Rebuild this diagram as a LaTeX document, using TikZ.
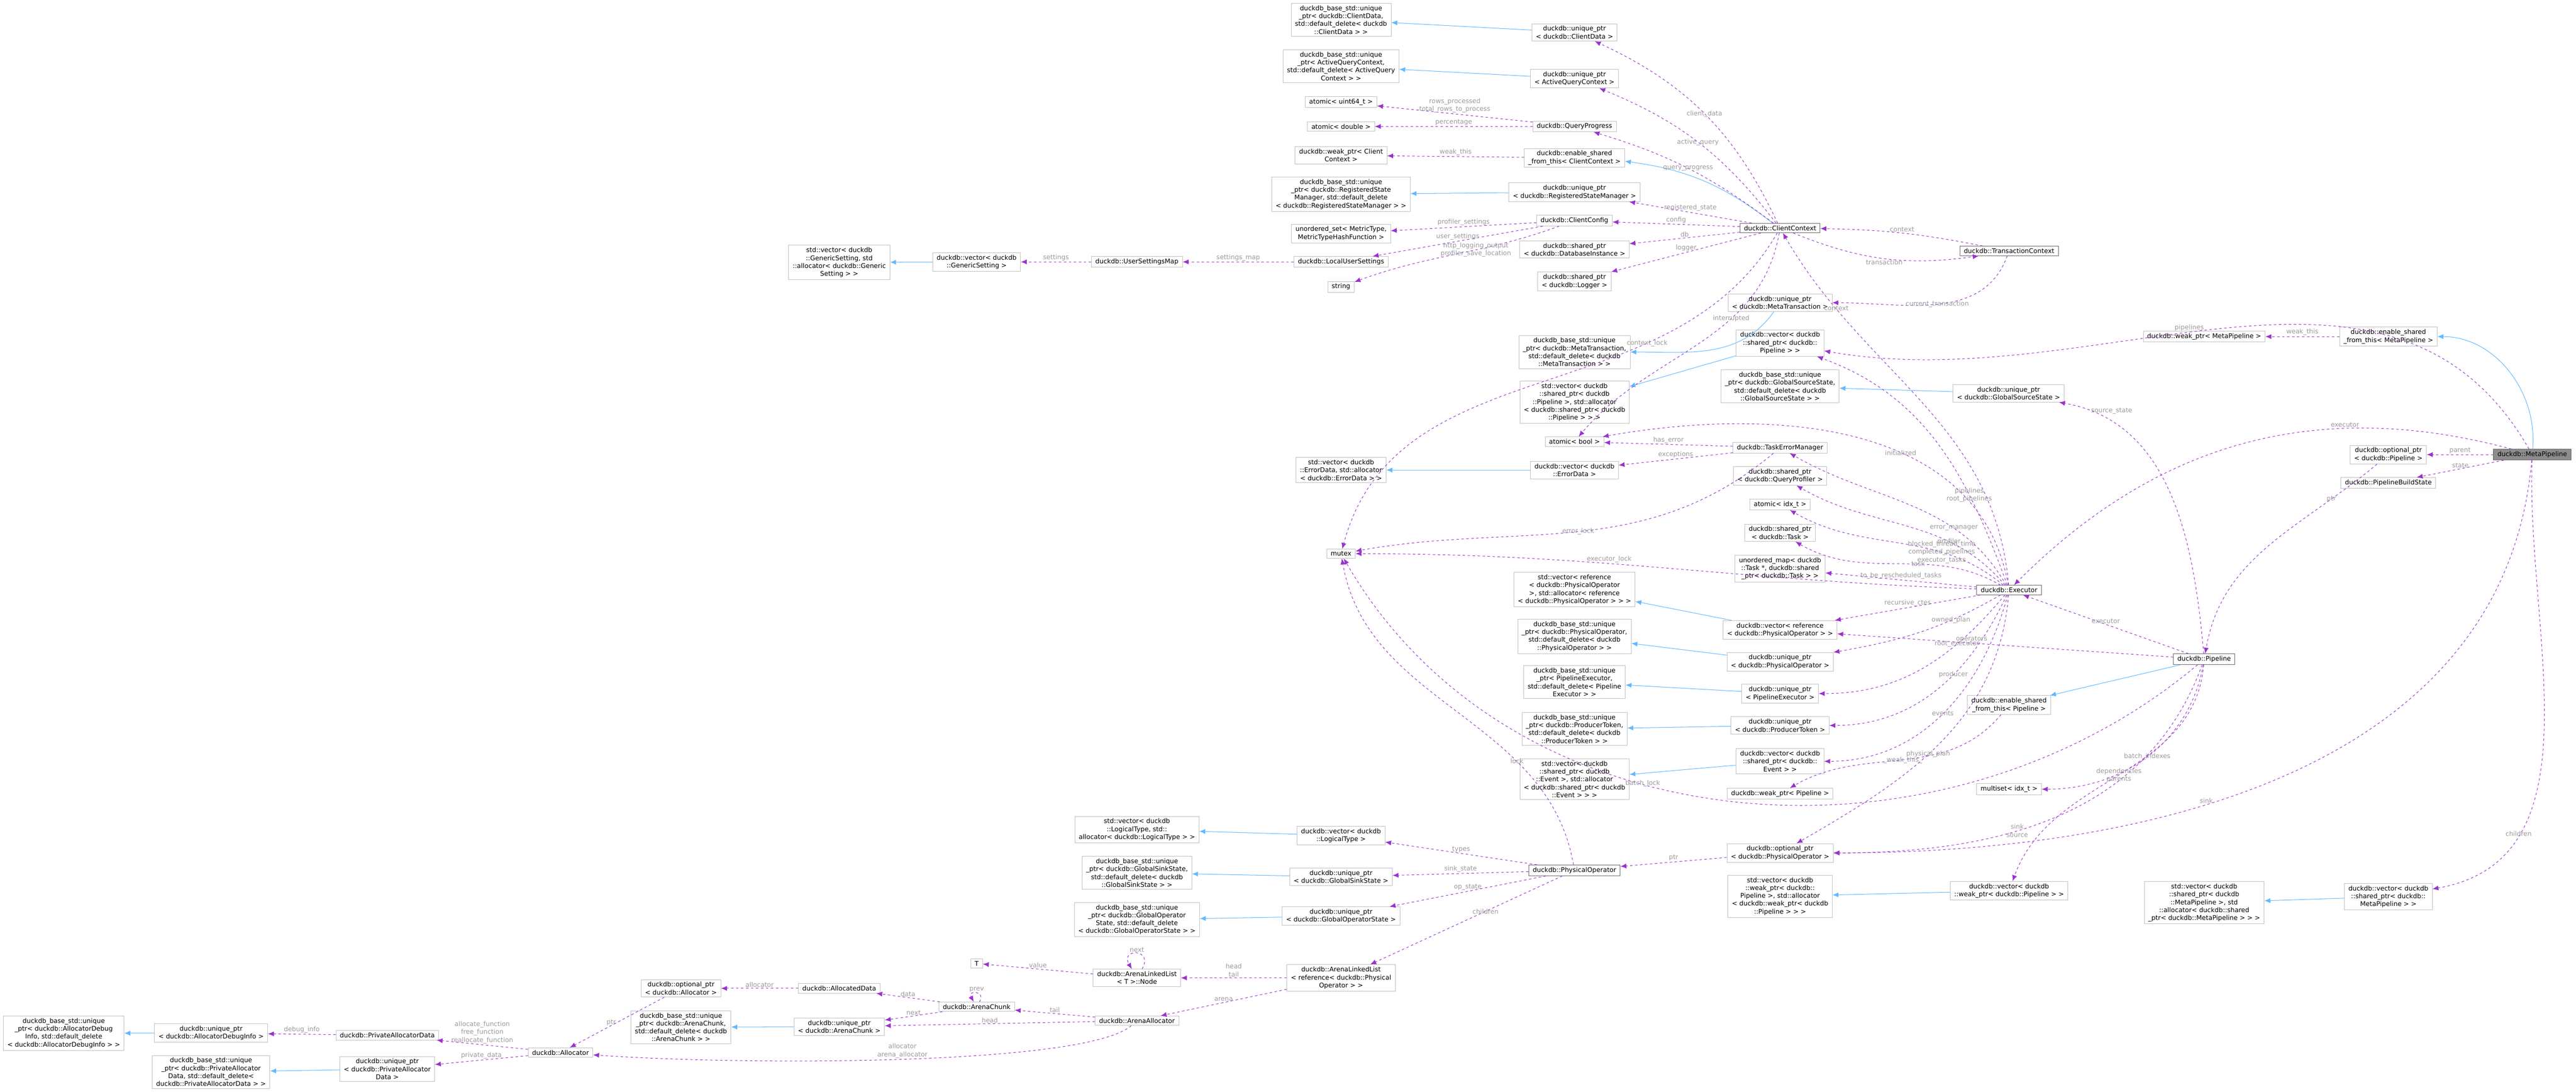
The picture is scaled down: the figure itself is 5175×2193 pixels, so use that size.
\documentclass[tikz,border=0pt]{standalone}
\usepackage{fontspec}
\usepackage{tikz}
\usepackage{xcolor}
\usetikzlibrary{arrows.meta}
\setmainfont{DejaVu Sans}
\definecolor{mem}{HTML}{9A32CD}
\definecolor{inh}{HTML}{63B8FF}
\definecolor{edge}{HTML}{BFBFBF}
\definecolor{lbl}{HTML}{9A9A9A}

\begin{document}
\begin{tikzpicture}[x=0.02cm, y=-0.02cm,
	box/.style={draw=edge, line width=0.5pt, fill=white, align=center, inner xsep=1.6mm, inner ysep=0.9mm, font=\fontsize{7.4}{9}\selectfont},
	key/.style={box, draw=black!60},
	lbl/.style={text=lbl, align=center, font=\fontsize{7.4}{9}\selectfont, inner sep=1pt},
	mem/.style={draw=mem, dashed, dash pattern=on 1mm off 1mm, line width=0.6pt, -{Latex[length=2.4mm, width=2mm]}},
	inh/.style={draw=inh, line width=0.6pt, -{Latex[length=2.4mm, width=2mm]}}]
	\useasboundingbox (0,0) rectangle (5175,2193);

	\node[box](bCD) at (2694,40) {duckdb\_base\_std::unique\\\_ptr< duckdb::ClientData,\\ std::default\_delete< duckdb\\::ClientData > >};
	\node[box](uCD) at (3163,65) {duckdb::unique\_ptr\\< duckdb::ClientData >};
	\node[box](bAQC) at (2694,133) {duckdb\_base\_std::unique\\\_ptr< ActiveQueryContext,\\ std::default\_delete< ActiveQuery\\Context > >};
	\node[box](uAQC) at (3163,158) {duckdb::unique\_ptr\\< ActiveQueryContext >};
	\node[box](aU64) at (2694,205) {atomic< uint64\_t >};
	\node[box](aDbl) at (2694,254) {atomic< double >};
	\node[box](qp) at (3163,254) {duckdb::QueryProgress};
	\node[box](wCC) at (2694,312) {duckdb::weak\_ptr< Client\\Context >};
	\node[box](esCC) at (3163,317) {duckdb::enable\_shared\\\_from\_this< ClientContext >};
	\node[box](bRSM) at (2694,390) {duckdb\_base\_std::unique\\\_ptr< duckdb::RegisteredState\\Manager, std::default\_delete\\< duckdb::RegisteredStateManager > >};
	\node[box](uRSM) at (3163,386) {duckdb::unique\_ptr\\< duckdb::RegisteredStateManager >};
	\node[box](cfg) at (3163,443) {duckdb::ClientConfig};
	\node[box](uSet) at (2694,469) {unordered\_set< MetricType,\\MetricTypeHashFunction >};
	\node[box](sDB) at (3163,501) {duckdb::shared\_ptr\\< duckdb::DatabaseInstance >};
	\node[box](lus) at (2694,526) {duckdb::LocalUserSettings};
	\node[box](usm) at (2284,526) {duckdb::UserSettingsMap};
	\node[box](vGS) at (1962,526) {duckdb::vector< duckdb\\::GenericSetting >};
	\node[box](svGS) at (1686,527) {std::vector< duckdb\\::GenericSetting, std\\::allocator< duckdb::Generic\\Setting > >};
	\node[key](cc) at (3576,458) {duckdb::ClientContext};
	\node[key](tc) at (4036,504) {duckdb::TransactionContext};
	\node[box](str) at (2694,576) {string};
	\node[box](sLog) at (3163,565) {duckdb::shared\_ptr\\< duckdb::Logger >};
	\node[box](uMT) at (3576,608) {duckdb::unique\_ptr\\< duckdb::MetaTransaction >};
	\node[box](bMT) at (3163,707) {duckdb\_base\_std::unique\\\_ptr< duckdb::MetaTransaction,\\ std::default\_delete< duckdb\\::MetaTransaction > >};
	\node[box](vSPP) at (3576,689) {duckdb::vector< duckdb\\::shared\_ptr< duckdb::\\Pipeline > >};
	\node[box](svSPP) at (3163,808) {std::vector< duckdb\\::shared\_ptr< duckdb\\::Pipeline >, std::allocator\\< duckdb::shared\_ptr< duckdb\\::Pipeline > > >};
	\node[box](bGSS) at (3576,776) {duckdb\_base\_std::unique\\\_ptr< duckdb::GlobalSourceState,\\ std::default\_delete< duckdb\\::GlobalSourceState > >};
	\node[box](uGSS) at (4035,790) {duckdb::unique\_ptr\\< duckdb::GlobalSourceState >};
	\node[box](aBool) at (3163,887) {atomic< bool >};
	\node[box](tem) at (3576,899) {duckdb::TaskErrorManager};
	\node[box](svED) at (2694,944) {std::vector< duckdb\\::ErrorData, std::allocator\\< duckdb::ErrorData > >};
	\node[box](vED) at (3163,944) {duckdb::vector< duckdb\\::ErrorData >};
	\node[box](sQP) at (3576,956) {duckdb::shared\_ptr\\< duckdb::QueryProfiler >};
	\node[box](aIdx) at (3576,1013) {atomic< idx\_t >};
	\node[box](sTask) at (3576,1070) {duckdb::shared\_ptr\\< duckdb::Task >};
	\node[box](mtx) at (2694,1112) {mutex};
	\node[box](uMap) at (3576,1142) {unordered\_map< duckdb\\::Task *, duckdb::shared\\\_ptr< duckdb::Task > >};
	\node[box](svRPO) at (3163,1184) {std::vector< reference\\< duckdb::PhysicalOperator\\ >, std::allocator< reference\\< duckdb::PhysicalOperator > > >};
	\node[box](vRPO) at (3576,1265) {duckdb::vector< reference\\< duckdb::PhysicalOperator > >};
	\node[box](bPO) at (3163,1278) {duckdb\_base\_std::unique\\\_ptr< duckdb::PhysicalOperator,\\ std::default\_delete< duckdb\\::PhysicalOperator > >};
	\node[box](uPO) at (3576,1329) {duckdb::unique\_ptr\\< duckdb::PhysicalOperator >};
	\node[box](bPE) at (3163,1370) {duckdb\_base\_std::unique\\\_ptr< PipelineExecutor,\\ std::default\_delete< Pipeline\\Executor > >};
	\node[box](uPE) at (3576,1393) {duckdb::unique\_ptr\\< PipelineExecutor >};
	\node[box](bPT) at (3163,1464) {duckdb\_base\_std::unique\\\_ptr< duckdb::ProducerToken,\\ std::default\_delete< duckdb\\::ProducerToken > >};
	\node[box](uPT) at (3576,1457) {duckdb::unique\_ptr\\< duckdb::ProducerToken >};
	\node[box](svSPE) at (3163,1565) {std::vector< duckdb\\::shared\_ptr< duckdb\\::Event >, std::allocator\\< duckdb::shared\_ptr< duckdb\\::Event > > >};
	\node[box](vSPE) at (3576,1529) {duckdb::vector< duckdb\\::shared\_ptr< duckdb::\\Event > >};
	\node[box](wP) at (3576,1594) {duckdb::weak\_ptr< Pipeline >};
	\node[box](wMP) at (4428,676) {duckdb::weak\_ptr< MetaPipeline >};
	\node[box](esMP) at (4798,676) {duckdb::enable\_shared\\\_from\_this< MetaPipeline >};
	\node[box](oP) at (4798,913) {duckdb::optional\_ptr\\< duckdb::Pipeline >};
	\node[key, fill=black!45](mp) at (5087,913) {duckdb::MetaPipeline};
	\node[box](pbs) at (4798,970) {duckdb::PipelineBuildState};
	\node[key](exe) at (4036,1185) {duckdb::Executor};
	\node[key](pl) at (4428,1324) {duckdb::Pipeline};
	\node[box](esP) at (4036,1416) {duckdb::enable\_shared\\\_from\_this< Pipeline >};
	\node[box](mset) at (4036,1585) {multiset< idx\_t >};
	\node[box](svLT) at (2284,1666) {std::vector< duckdb\\::LogicalType, std::\\allocator< duckdb::LogicalType > >};
	\node[box](vLT) at (2694,1678) {duckdb::vector< duckdb\\::LogicalType >};
	\node[box](bGSiS) at (2284,1753) {duckdb\_base\_std::unique\\\_ptr< duckdb::GlobalSinkState,\\ std::default\_delete< duckdb\\::GlobalSinkState > >};
	\node[box](uGSiS) at (2694,1761) {duckdb::unique\_ptr\\< duckdb::GlobalSinkState >};
	\node[box](bGOS) at (2284,1847) {duckdb\_base\_std::unique\\\_ptr< duckdb::GlobalOperator\\State, std::default\_delete\\< duckdb::GlobalOperatorState > >};
	\node[box](uGOS) at (2694,1840) {duckdb::unique\_ptr\\< duckdb::GlobalOperatorState >};
	\node[key](po) at (3163,1748) {duckdb::PhysicalOperator};
	\node[box](oPO) at (3576,1713) {duckdb::optional\_ptr\\< duckdb::PhysicalOperator >};
	\node[box](svWPP) at (3576,1800) {std::vector< duckdb\\::weak\_ptr< duckdb::\\Pipeline >, std::allocator\\< duckdb::weak\_ptr< duckdb\\::Pipeline > > >};
	\node[box](vWPP) at (4036,1789) {duckdb::vector< duckdb\\::weak\_ptr< duckdb::Pipeline > >};
	\node[box](svSPMP) at (4428,1813) {std::vector< duckdb\\::shared\_ptr< duckdb\\::MetaPipeline >, std\\::allocator< duckdb::shared\\\_ptr< duckdb::MetaPipeline > > >};
	\node[box](vSPMP) at (4798,1801) {duckdb::vector< duckdb\\::shared\_ptr< duckdb::\\MetaPipeline > >};
	\node[box](T) at (1962,1935) {T};
	\node[box](lnode) at (2284,1964) {duckdb::ArenaLinkedList\\< T >::Node};
	\node[box](all) at (2694,1964) {duckdb::ArenaLinkedList\\< reference< duckdb::Physical\\Operator > >};
	\node[box](oAl) at (1368,1985) {duckdb::optional\_ptr\\< duckdb::Allocator >};
	\node[box](ad) at (1686,1985) {duckdb::AllocatedData};
	\node[box](ac) at (1962,2022) {duckdb::ArenaChunk};
	\node[box](bAC) at (1368,2063) {duckdb\_base\_std::unique\\\_ptr< duckdb::ArenaChunk,\\ std::default\_delete< duckdb\\::ArenaChunk > >};
	\node[box](uAC) at (1686,2062) {duckdb::unique\_ptr\\< duckdb::ArenaChunk >};
	\node[box](aa) at (2284,2050) {duckdb::ArenaAllocator};
	\node[box](alloc) at (1126,2114) {duckdb::Allocator};
	\node[box](bADI) at (128,2075) {duckdb\_base\_std::unique\\\_ptr< duckdb::AllocatorDebug\\Info, std::default\_delete\\< duckdb::AllocatorDebugInfo > >};
	\node[box](uADI) at (424,2075) {duckdb::unique\_ptr\\< duckdb::AllocatorDebugInfo >};
	\node[box](pad) at (778,2079) {duckdb::PrivateAllocatorData};
	\node[box](bPAD) at (424,2153) {duckdb\_base\_std::unique\\\_ptr< duckdb::PrivateAllocator\\Data, std::default\_delete<\\ duckdb::PrivateAllocatorData > >};
	\node[box](uPAD) at (778,2147) {duckdb::unique\_ptr\\< duckdb::PrivateAllocator\\Data >};

	\draw[inh] (uCD) -- (bCD);
	\draw[inh] (uAQC) -- (bAQC);
	\draw[inh] (cc) to[bend right=15] (esCC);
	\draw[inh] (uRSM) -- (bRSM);
	\draw[inh] (vGS) -- (svGS);
	\draw[inh] (uMT) to[out=235, in=0] (bMT);
	\draw[inh] (vSPP) -- (svSPP);
	\draw[inh] (uGSS) -- (bGSS);
	\draw[inh] (vED) -- (svED);
	\draw[inh] (vRPO) -- (svRPO);
	\draw[inh] (uPO) -- (bPO);
	\draw[inh] (uPE) -- (bPE);
	\draw[inh] (uPT) -- (bPT);
	\draw[inh] (vSPE) -- (svSPE);
	\draw[inh] (vLT) -- (svLT);
	\draw[inh] (uGSiS) -- (bGSiS);
	\draw[inh] (uGOS) -- (bGOS);
	\draw[inh] (uAC) -- (bAC);
	\draw[inh] (uADI) -- (bADI);
	\draw[inh] (uPAD) -- (bPAD);
	\draw[inh] (pl) -- (esP);
	\draw[inh] (vWPP) -- (svWPP);
	\draw[inh] (vSPMP) -- (svSPMP);
	\draw[inh] (mp) to[out=85, in=0] (esMP);

	\draw[mem] (cc) to[bend right=20] node[lbl]{client\_data} (uCD);
	\draw[mem] (cc) to[bend right=15] node[lbl]{active\_query} (uAQC);
	\draw[mem] (qp) -- node[lbl, above]{rows\_processed\\total\_rows\_to\_process} (aU64);
	\draw[mem] (qp) -- node[lbl, above]{percentage} (aDbl);
	\draw[mem] (cc) to[bend right=10] node[lbl]{query\_progress} (qp);
	\draw[mem] (esCC) -- node[lbl, above]{weak\_this} (wCC);
	\draw[mem] (cc) -- node[lbl, above]{registered\_state} (uRSM);
	\draw[mem] (cc) -- node[lbl, above]{config} (cfg);
	\draw[mem] (cfg) -- node[lbl, above]{profiler\_settings} (uSet);
	\draw[mem] (cfg) -- node[lbl, above]{user\_settings} (lus);
	\draw[mem] (cfg) to[out=200, in=20] node[lbl, pos=0.4]{http\_logging\_output\\profiler\_save\_location} (str);
	\draw[mem] (lus) -- node[lbl, above]{settings\_map} (usm);
	\draw[mem] (usm) -- node[lbl, above]{settings} (vGS);
	\draw[mem] (cc) -- node[lbl, above]{db} (sDB);
	\draw[mem] (cc) -- node[lbl, above]{logger} (sLog);
	\draw[mem] (cc) to[out=240, in=75] node[lbl, pos=0.3]{context\_lock} (mtx);
	\draw[mem] (cc) to[out=260, in=50] node[lbl, pos=0.35]{interrupted} (aBool);
	\draw[mem] (tc) to[bend right=5] node[lbl, above]{context} (cc);
	\draw[mem] (cc) to[bend right=15] node[lbl, below]{transaction} (tc);
	\draw[mem] (exe) to[out=95, in=-60] node[lbl, pos=0.8]{context} (cc);
	\draw[mem] (tc) to[out=250, in=0] node[lbl]{current\_transaction} (uMT);
	\draw[mem] (exe) to[out=100, in=10] node[lbl, pos=0.4]{initialized} (aBool);
	\draw[mem] (tem) -- node[lbl, above]{has\_error} (aBool);
	\draw[mem] (tem) -- node[lbl, above]{exceptions} (vED);
	\draw[mem] (tem) to[out=220, in=10] node[lbl]{error\_lock} (mtx);
	\draw[mem] (exe) to[out=110, in=-20] node[lbl, pos=0.3]{pipelines\\root\_pipelines} (vSPP);
	\draw[mem] (mp) to[out=120, in=-10] node[lbl, pos=0.55, above]{pipelines} (vSPP);
	\draw[mem] (exe) to[out=120, in=-30] node[lbl, pos=0.3]{error\_manager} (tem);
	\draw[mem] (exe) to[out=130, in=-30] node[lbl, pos=0.3]{profiler} (sQP);
	\draw[mem] (exe) to[out=140, in=-30] node[lbl, pos=0.3]{blocked\_thread\_time\\completed\_pipelines\\executor\_tasks} (aIdx);
	\draw[mem] (exe) to[out=150, in=-30] node[lbl, pos=0.4]{task} (sTask);
	\draw[mem] (exe) -- node[lbl, above]{to\_be\_rescheduled\_tasks} (uMap);
	\draw[mem] (exe) to[out=178, in=0] node[lbl, pos=0.6, above]{executor\_lock} (mtx);
	\draw[mem] (exe) -- node[lbl, above]{recursive\_ctes} (vRPO);
	\draw[mem] (exe) to[out=210, in=10] node[lbl, pos=0.3]{owned\_plan} (uPO);
	\draw[mem] (exe) to[out=230, in=0] node[lbl, pos=0.3]{root\_executor} (uPE);
	\draw[mem] (exe) to[out=245, in=0] node[lbl, pos=0.4]{producer} (uPT);
	\draw[mem] (exe) to[out=255, in=0] node[lbl, pos=0.5]{events} (vSPE);
	\draw[mem] (esP) to[out=230, in=30] node[lbl]{\_weak\_this\_} (wP);
	\draw[mem] (exe) to[out=265, in=30] node[lbl, pos=0.55]{physical\_plan} (oPO);
	\draw[mem] (pl) to[out=220, in=-60] node[lbl, pos=0.6]{batch\_lock} (mtx);
	\draw[mem] (po) to[out=100, in=-80] node[lbl, pos=0.3]{lock} (mtx);
	\draw[mem] (pl) -- node[lbl, above]{executor} (exe);
	\draw[mem] (pl) to[out=95, in=-10] node[lbl, pos=0.9, right]{source\_state} (uGSS);
	\draw[mem] (pl) -- node[lbl, pos=0.6, above]{operators} (vRPO);
	\draw[mem] (pl) to[out=260, in=0] node[lbl, pos=0.5]{batch\_indexes} (mset);
	\draw[mem] (pl) to[out=250, in=0] node[lbl, pos=0.6]{sink\\source} (oPO);
	\draw[mem] (pl) to[out=265, in=70] node[lbl, pos=0.5]{dependencies\\parents} (vWPP);
	\draw[mem] (mp) to[out=165, in=45] node[lbl, pos=0.3, above]{executor} (exe);
	\draw[mem] (mp) -- node[lbl, above]{parent} (oP);
	\draw[mem] (mp) -- node[lbl, above]{state} (pbs);
	\draw[mem] (esMP) -- node[lbl, above]{weak\_this} (wMP);
	\draw[mem] (oP) to[out=220, in=80] node[lbl, pos=0.2]{ptr} (pl);
	\draw[mem] (mp) to[out=265, in=0] node[lbl, pos=0.6, above]{sink} (oPO);
	\draw[mem] (mp) to[out=268, in=10] node[lbl, pos=0.75]{children} (vSPMP);
	\draw[mem] (oPO) -- node[lbl, above]{ptr} (po);
	\draw[mem] (po) -- node[lbl, above]{types} (vLT);
	\draw[mem] (po) -- node[lbl, above]{sink\_state} (uGSiS);
	\draw[mem] (po) -- node[lbl, above]{op\_state} (uGOS);
	\draw[mem] (po) -- node[lbl, pos=0.4]{children} (all);
	\draw[mem] (all) -- node[lbl, above]{head\\tail} (lnode);
	\draw[mem] (all) -- node[lbl, above]{arena} (aa);
	\draw[mem] (lnode) to[out=60, in=120, looseness=6] node[lbl, above]{next} (lnode);
	\draw[mem] (lnode) -- node[lbl, above]{value} (T);
	\draw[mem] (ac) to[out=60, in=120, looseness=6] node[lbl, above]{prev} (ac);
	\draw[mem] (ac) -- node[lbl, above]{data} (ad);
	\draw[mem] (ac) -- node[lbl, above]{next} (uAC);
	\draw[mem] (aa) -- node[lbl, above]{tail} (ac);
	\draw[mem] (aa) -- node[lbl, above]{head} (uAC);
	\draw[mem] (aa) .. controls (2180,2140) and (1500,2140) .. node[lbl, above, pos=0.5]{allocator\\arena\_allocator} (alloc);
	\draw[mem] (ad) -- node[lbl, above]{allocator} (oAl);
	\draw[mem] (oAl) -- node[lbl, left]{ptr} (alloc);
	\draw[mem] (alloc) -- node[lbl, above]{allocate\_function\\free\_function\\reallocate\_function} (pad);
	\draw[mem] (alloc) -- node[lbl, above]{private\_data} (uPAD);
	\draw[mem] (pad) -- node[lbl, above]{debug\_info} (uADI);
\end{tikzpicture}
\end{document}
